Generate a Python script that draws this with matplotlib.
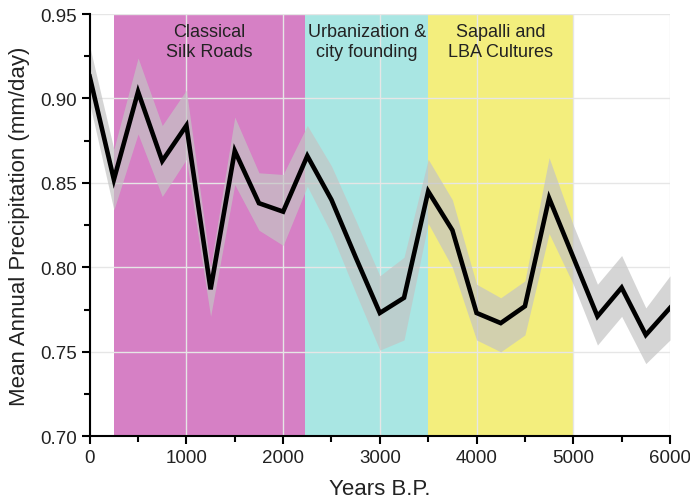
import numpy as np
import matplotlib.pyplot as plt
from matplotlib.ticker import MultipleLocator

plt.rcParams['font.family'] = ['Liberation Sans', 'DejaVu Sans']

# reconstruction (250-yr steps)
years = [0, 250, 500, 750, 1000, 1250, 1500, 1750, 2000, 2250, 2500, 2750, 3000,
         3250, 3500, 3750, 4000, 4250, 4500, 4750, 5000, 5250, 5500, 5750, 6000]
precip = [0.913, 0.852, 0.904, 0.863, 0.884, 0.787, 0.869, 0.838, 0.833, 0.866,
          0.840, 0.806, 0.773, 0.782, 0.845, 0.822, 0.773, 0.767, 0.777, 0.841,
          0.806, 0.771, 0.788, 0.760, 0.776]
upper = [0.931, 0.870, 0.924, 0.884, 0.905, 0.800, 0.889, 0.856, 0.855, 0.884,
         0.860, 0.828, 0.795, 0.806, 0.864, 0.840, 0.790, 0.782, 0.792, 0.865,
         0.825, 0.790, 0.807, 0.776, 0.795]
lower = [0.897, 0.834, 0.879, 0.842, 0.864, 0.771, 0.849, 0.822, 0.813, 0.848,
         0.820, 0.785, 0.751, 0.757, 0.826, 0.800, 0.757, 0.750, 0.760, 0.820,
         0.790, 0.754, 0.771, 0.743, 0.757]

periods = [(250, 2230, "#d680c5", "Classical\nSilk Roads"),
           (2230, 3500, "#a9e6e3", "Urbanization &\ncity founding"),
           (3500, 5000, "#f3ee7d", "Sapalli and\nLBA Cultures")]

fig = plt.figure(figsize=(6.9, 5.02), dpi=100)
ax = fig.add_axes([0.130, 0.129, 0.841, 0.841])

for x0, x1, col, label in periods:
    ax.axvspan(x0, x1, color=col, lw=0, zorder=0.5)
    ax.text((x0 + x1) / 2, 0.9445, label, ha="center", va="top",
            fontsize=13, color="#222222", linespacing=1.2)

ax.fill_between(years, lower, upper, color="#c4c4c4", alpha=0.7, lw=0, zorder=2)
ax.plot(years, precip, color="black", lw=3.3, solid_joinstyle="miter", zorder=3)

ax.set_xlim(0, 6000)
ax.set_ylim(0.70, 0.95)
ax.xaxis.set_major_locator(MultipleLocator(1000))
ax.xaxis.set_minor_locator(MultipleLocator(500))
ax.yaxis.set_major_locator(MultipleLocator(0.05))
ax.yaxis.set_minor_locator(MultipleLocator(0.025))
ax.yaxis.set_major_formatter(lambda v, p: f"{v:.2f}")

ax.grid(True, color="#e6e6e6", lw=1, zorder=1)
for s in ["top", "right"]:
    ax.spines[s].set_visible(False)
for s in ["left", "bottom"]:
    ax.spines[s].set_linewidth(1.5)
ax.tick_params(which="major", length=6, width=1.5, labelsize=13.5,
               labelcolor="#222222", direction="out")
ax.tick_params(which="minor", length=4, width=1.5, direction="out")

ax.set_xlabel("Years B.P.", fontsize=16, labelpad=8, color="#222222")
ax.set_ylabel("Mean Annual Precipitation (mm/day)", fontsize=16, labelpad=7,
              color="#222222")

fig.savefig("out.png", dpi=100)
